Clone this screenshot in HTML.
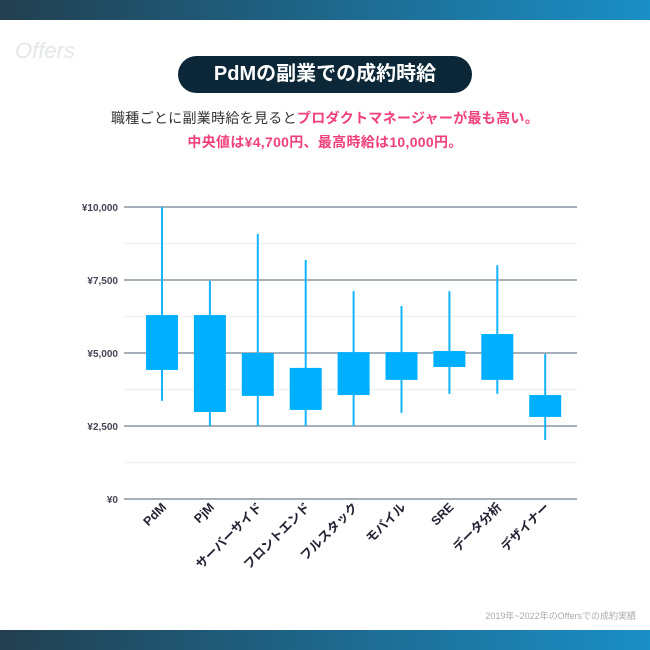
<!DOCTYPE html>
<html><head><meta charset="utf-8"><style>
body{margin:0;width:650px;height:650px;background:#fff;position:relative;overflow:hidden;font-family:"Liberation Sans","Noto Sans CJK JP",sans-serif}
.bar{position:absolute;left:0;width:650px;height:20px;background:linear-gradient(90deg,#223f50,#1a8fc6)}
</style></head><body>
<div class="bar" style="top:0"></div>
<div class="bar" style="top:630px"></div>
<div style="position:absolute;left:15px;top:38px;font-size:22px;font-style:italic;color:#e4e7ea">Offers</div>
<div style="position:absolute;left:178px;top:56px;width:294px;height:37px;border-radius:19px;background:#0c2738;color:#fff;font-size:20px;font-weight:bold;text-align:center;line-height:37px">PdMの副業での成約時給</div>
<div style="position:absolute;left:0;width:650px;top:106px;text-align:center;font-size:14px;color:#333;line-height:24px;letter-spacing:0.3px">職種ごとに副業時給を見ると<span style="color:#f0407a;font-weight:bold">プロダクトマネージャーが最も高い。</span><br><span style="color:#f0407a;font-weight:bold">中央値は¥4,700円、最高時給は10,000円。</span></div>
<svg id="c" width="650" height="650" style="position:absolute;left:0;top:0"></svg>
<div style="position:absolute;right:14px;top:609px;font-size:9px;color:#aaa">2019年~2022年のOffersでの成約実績</div>
<script>
const categories=["PdM","PjM","サーバーサイド","フロントエンド","フルスタック","モバイル","SRE","データ分析","デザイナー"];
const maxVals=[10000,7470,9080,8190,7120,6610,7120,8010,4970];
const q3Vals=[6300,6300,5000,4490,5030,5030,5070,5650,3560];
const q1Vals=[4420,2980,3530,3050,3560,4080,4520,4080,2810];
const minVals=[3360,2500,2500,2500,2500,2950,3600,3600,2020];
const ticks=[0,2500,5000,7500,10000];
const tickLabels=["¥0","¥2,500","¥5,000","¥7,500","¥10,000"];
const NS="http://www.w3.org/2000/svg",svg=document.getElementById('c');
const y=v=>499-v/10000*292, x=i=>162+i*47.9;
function mk(t,a){const e=document.createElementNS(NS,t);for(const k in a)e.setAttribute(k,a[k]);svg.appendChild(e);return e;}
for(let v=1250;v<10000;v+=2500){const e=mk('line',{x1:124,x2:577,y1:y(v),y2:y(v),stroke:'#eef1f3','stroke-width':1.5});

}
ticks.forEach((v,i)=>{const l=mk('line',{x1:124,x2:577,y1:y(v),y2:y(v),stroke:'#8795a0','stroke-width':1.5});


const t=mk('text',{x:118,y:y(v)+4,'text-anchor':'end','font-size':10,'font-weight':'bold',fill:'#445'});t.textContent=tickLabels[i];

});
categories.forEach((c,i)=>{const cx=x(i);
const w=mk('line',{x1:cx,x2:cx,y1:y(maxVals[i]),y2:y(minVals[i]),stroke:'#14b4ff','stroke-width':2});


const b=mk('rect',{x:cx-16,y:y(q3Vals[i]),width:32,height:y(q1Vals[i])-y(q3Vals[i]),fill:'#00b0ff'});


const t=mk('text',{transform:`translate(${cx+5},${508}) rotate(-45)`,'text-anchor':'end','font-size':12.5,'font-weight':'bold',fill:'#223'});t.textContent=c;

});
</script>
</body></html>
